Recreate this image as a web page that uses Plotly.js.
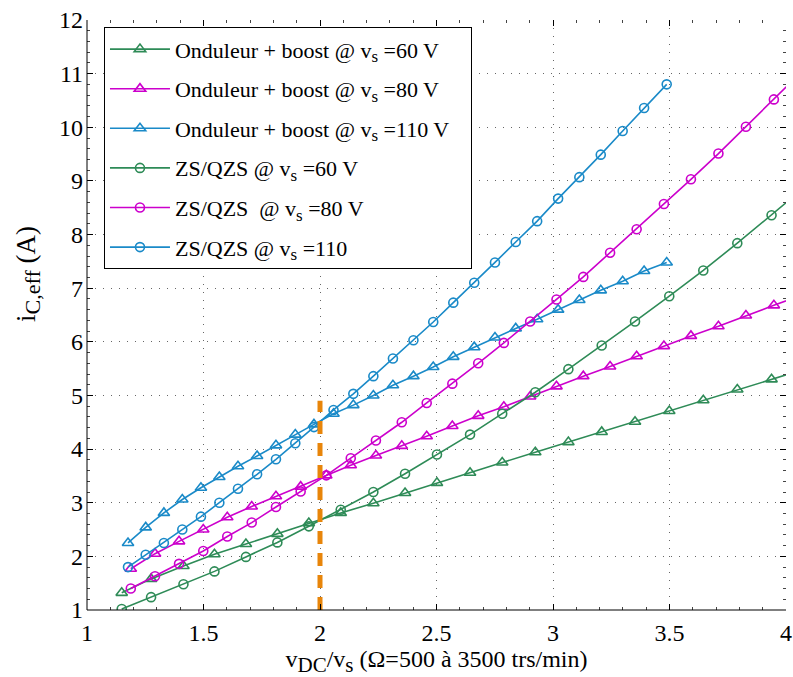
<!DOCTYPE html>
<html>
<head>
<meta charset="utf-8">
<script src="https://cdn.plot.ly/plotly-3.0.1.min.js"></script>
<style>html,body{margin:0;padding:0;background:#fff;}#chart{width:793px;height:677px;}</style>
</head>
<body>
<div id="chart"></div>
<script>
// x values (vDC/vs) for each supply voltage
const x60 = [1.149, 1.275, 1.414, 1.547, 1.682, 1.817, 1.952, 2.089, 2.229, 2.365, 2.502, 2.644, 2.782, 2.924, 3.066, 3.209, 3.352, 3.499, 3.645, 3.791, 3.938, 4.080];
const x80 = [1.188, 1.292, 1.395, 1.499, 1.602, 1.707, 1.811, 1.917, 2.027, 2.132, 2.240, 2.351, 2.458, 2.568, 2.679, 2.789, 2.902, 3.015, 3.130, 3.245, 3.359, 3.476, 3.592, 3.710, 3.828, 3.948, 4.066];
const x110 = [1.176, 1.252, 1.330, 1.409, 1.489, 1.568, 1.648, 1.730, 1.811, 1.894, 1.974, 2.058, 2.143, 2.229, 2.313, 2.401, 2.486, 2.572, 2.662, 2.751, 2.840, 2.932, 3.022, 3.113, 3.205, 3.299, 3.391, 3.488];

// i_C,eff (A)
const boost60 = [1.32, 1.58, 1.82, 2.04, 2.23, 2.42, 2.62, 2.81, 2.99, 3.18, 3.37, 3.56, 3.75, 3.94, 4.13, 4.32, 4.51, 4.71, 4.91, 5.11, 5.30, 5.49];
const boost80 = [1.77, 2.05, 2.28, 2.50, 2.73, 2.93, 3.12, 3.30, 3.51, 3.70, 3.88, 4.06, 4.24, 4.43, 4.62, 4.79, 4.98, 5.17, 5.36, 5.54, 5.73, 5.92, 6.11, 6.29, 6.49, 6.68, 6.87];
const boost110 = [2.25, 2.54, 2.81, 3.06, 3.28, 3.48, 3.68, 3.87, 4.07, 4.27, 4.46, 4.66, 4.82, 5.00, 5.19, 5.36, 5.53, 5.72, 5.90, 6.08, 6.25, 6.42, 6.60, 6.78, 6.96, 7.13, 7.32, 7.48];
const zs60 = [1.02, 1.24, 1.48, 1.72, 1.99, 2.26, 2.56, 2.87, 3.20, 3.54, 3.90, 4.27, 4.66, 5.06, 5.49, 5.93, 6.38, 6.85, 7.33, 7.84, 8.36, 8.88];
const zs80 = [1.40, 1.63, 1.86, 2.10, 2.37, 2.63, 2.92, 3.21, 3.51, 3.83, 4.16, 4.50, 4.86, 5.22, 5.60, 5.98, 6.38, 6.79, 7.21, 7.66, 8.10, 8.57, 9.03, 9.51, 10.01, 10.52, 11.03];
const zs110 = [1.80, 2.03, 2.25, 2.50, 2.74, 3.00, 3.26, 3.53, 3.81, 4.11, 4.41, 4.73, 5.03, 5.36, 5.69, 6.03, 6.37, 6.73, 7.10, 7.48, 7.86, 8.25, 8.67, 9.07, 9.49, 9.93, 10.36, 10.80];

// vertical marker at vDC/vs = 2
const markX = [2, 2];
const markY = [1, 4.9];

const SUB = (t, px) => '<sub><span style="font-size:' + px + 'px">' + t + '</span></sub>';
const names = [
  'Onduleur + boost @ v' + SUB('s', 17) + ' =60 V',
  'Onduleur + boost @ v' + SUB('s', 17) + ' =80 V',
  'Onduleur + boost @ v' + SUB('s', 17) + ' =110 V   ',
  'ZS/QZS @ v' + SUB('s', 17) + ' =60 V',
  'ZS/QZS  @ v' + SUB('s', 17) + ' =80 V',
  'ZS/QZS @ v' + SUB('s', 17) + ' =110'
];
const xTitle = 'v' + SUB('DC', 21) + '/v' + SUB('s', 21) + ' (Ω=500 à 3500 trs/min)';
const yTitle = 'i' + SUB('C,eff', 22) + ' (A)';

const GREEN = '#2e8b57', MAGENTA = '#cc00cc', BLUE = '#1a8ac8';

function tr(x, y, name, color, symbol, size, g) {
  return {
    x: x, y: y, name: name, type: 'scatter', mode: 'lines+markers',
    legendgroup: g,
    line: {color: color, width: 1.6},
    marker: {symbol: symbol, size: size, color: color, line: {color: color, width: 1.6}}
  };
}

const data = [
  tr(x60, boost60, names[0], GREEN, 'triangle-up-open', 10, 'a'),
  tr(x80, boost80, names[1], MAGENTA, 'triangle-up-open', 10, 'b'),
  tr(x110, boost110, names[2], BLUE, 'triangle-up-open', 10, 'c'),
  tr(x60, zs60, names[3], GREEN, 'circle-open', 9, 'd'),
  tr(x80, zs80, names[4], MAGENTA, 'circle-open', 9, 'e'),
  tr(x110, zs110, names[5], BLUE, 'circle-open', 9, 'f'),
  {x: markX, y: markY, type: 'scatter', mode: 'lines', showlegend: false,
   line: {color: '#e8850a', width: 5, dash: '13px,9px'}}
];

const FONT = 'Liberation Serif, Times New Roman, serif';

const layout = {
  width: 793, height: 677,
  margin: {l: 87, r: 7, t: 20, b: 67},
  paper_bgcolor: '#fff', plot_bgcolor: '#fff',
  font: {family: FONT, size: 22, color: '#000'},
  showlegend: true,
  legend: {
    x: 0.024, y: 0.988, xanchor: 'left', yanchor: 'top',
    bgcolor: '#fff', bordercolor: '#000', borderwidth: 1.2,
    font: {family: FONT, size: 22, color: '#000'},
    traceorder: 'grouped', tracegroupgap: 8,
    itemwidth: 60
  },
  xaxis: {
    range: [1, 4], dtick: 0.5, tick0: 1,
    showgrid: true, gridcolor: 'rgba(0,0,0,0.6)', griddash: '1px,7px', gridwidth: 1,
    zeroline: false, showline: false,
    ticks: 'inside', ticklen: 6, tickcolor: '#000', mirror: 'ticks',
    ticklabelstandoff: 6,
    minor: {dtick: 0.1, ticks: 'inside', ticklen: 3, tickcolor: '#444', showgrid: false},
    tickfont: {family: FONT, size: 24},
    title: {text: xTitle, font: {family: FONT, size: 24}, standoff: 2}
  },
  yaxis: {
    range: [1, 12], dtick: 1, tick0: 1,
    showgrid: true, gridcolor: 'rgba(0,0,0,0.6)', griddash: '1px,7px', gridwidth: 1,
    zeroline: false, showline: false,
    ticks: 'inside', ticklen: 6, tickcolor: '#000', mirror: 'ticks',
    ticklabelstandoff: 3,
    minor: {dtick: 0.2, ticks: 'inside', ticklen: 3, tickcolor: '#444', showgrid: false},
    tickfont: {family: FONT, size: 24}
  },
  annotations: [
    {text: yTitle, xref: 'paper', yref: 'paper', x: -0.084, y: 0.57,
     xanchor: 'center', yanchor: 'middle', textangle: -90, showarrow: false,
     font: {family: FONT, size: 27, color: '#000'}}
  ],
  shapes: [
    {type: 'line', xref: 'paper', yref: 'paper', x0: 0, x1: 0, y0: 0, y1: 1, line: {color: '#000', width: 1}},
    {type: 'line', xref: 'paper', yref: 'paper', x0: 0, x1: 1, y0: 0, y1: 0, line: {color: '#000', width: 1}}
  ]
};

Plotly.newPlot('chart', data, layout, {displayModeBar: false, staticPlot: true});
</script>
</body>
</html>
